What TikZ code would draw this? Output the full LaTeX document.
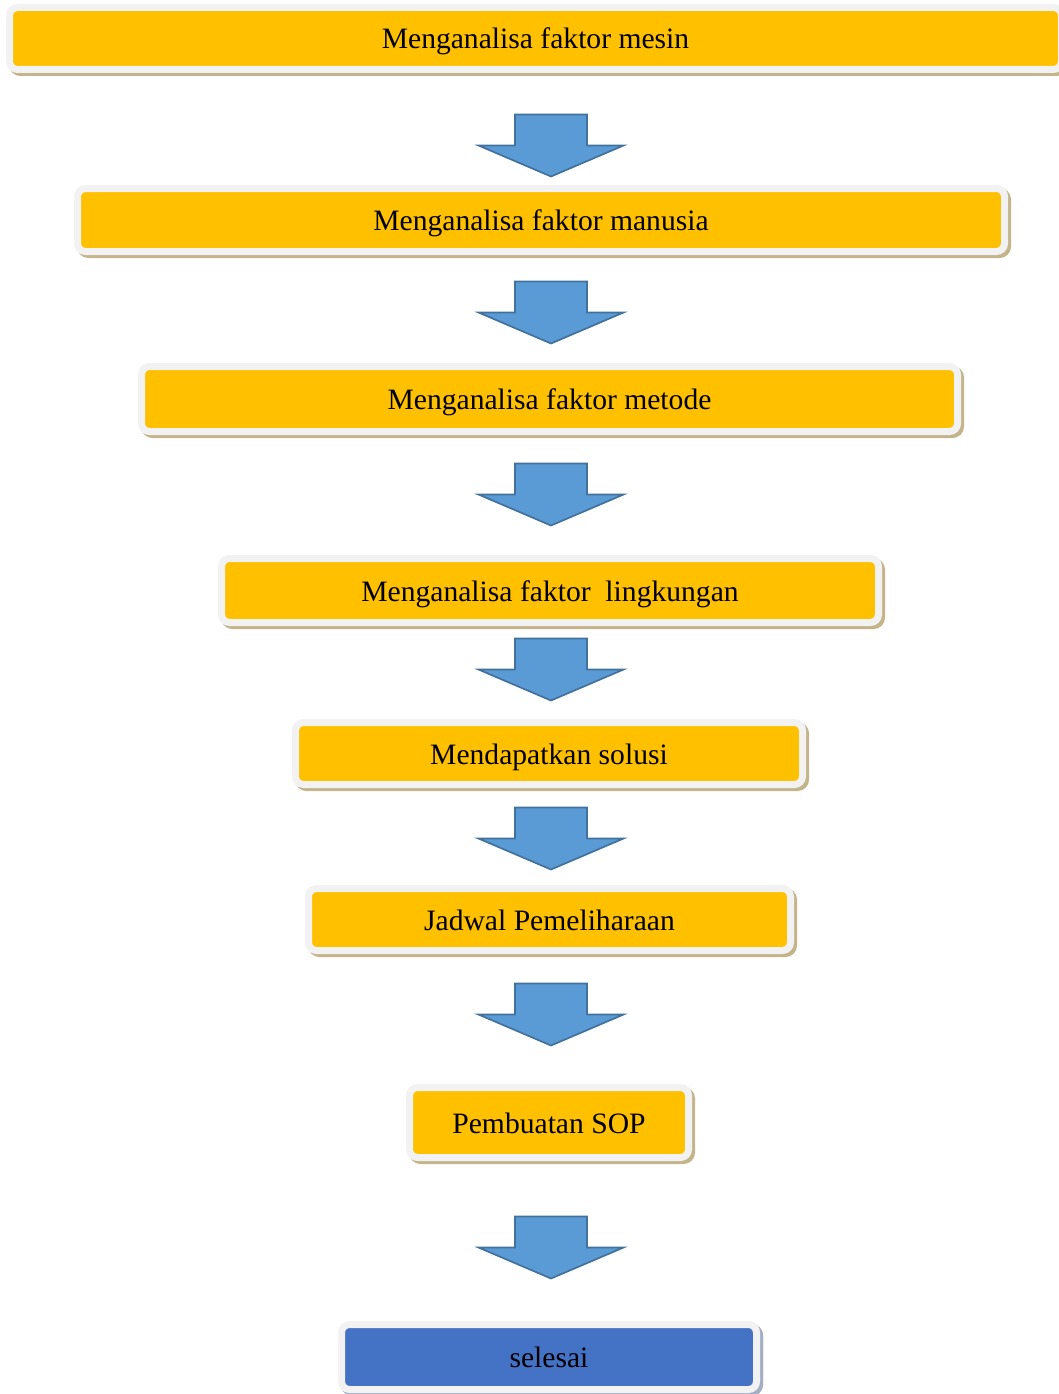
\documentclass[tikz,border=0pt]{standalone}
\usepackage{fontspec}
\setmainfont{Liberation Serif}
\definecolor{boxyellow}{HTML}{FFC000}
\definecolor{boxblue}{HTML}{4472C4}
\definecolor{framegrey}{HTML}{F2F2F2}
\definecolor{shadowtan}{HTML}{C4B48A}
\definecolor{shadowblue}{HTML}{A3AEC6}
\definecolor{arrowfill}{HTML}{5B9BD5}
\definecolor{arrowline}{HTML}{41719C}
\newcommand{\boxtext}[1]{\raisebox{-10.5pt}[0pt][0pt]{#1}}
\tikzset{
  stepbox/.style={rectangle, rounded corners=8pt, fill=boxyellow, draw=framegrey,
    line width=7pt, inner sep=0pt, font=\fontsize{29.6}{34}\selectfont, text=black,
    preaction={draw=shadowtan, line width=7pt, transform canvas={shift={(3pt,-3pt)}}}},
  endbox/.style={stepbox, fill=boxblue,
    preaction={draw=shadowblue, line width=7pt, transform canvas={shift={(3pt,-3pt)}}}},
  blkarrow/.pic={
    \draw[fill=arrowfill, draw=arrowline, line width=1.7pt, line join=miter]
      (-36,0) -- (36,0) -- (36,31) -- (72.5,31) -- (0,62) -- (-72.5,31) -- (-36,31) -- cycle;
  }
}
\begin{document}
\begin{tikzpicture}[x=1pt, y=-1pt]
\useasboundingbox (0,0) rectangle (1059,1394);
\node[stepbox, minimum width=1052pt, minimum height=62pt] (b1) at (535.5,38.5) {\boxtext{Menganalisa faktor mesin}};
\node[stepbox, minimum width=927pt, minimum height=63pt] (b2) at (541,220) {\boxtext{Menganalisa faktor manusia}};
\node[stepbox, minimum width=816pt, minimum height=65pt] (b3) at (549.5,399) {\boxtext{Menganalisa faktor metode}};
\node[stepbox, minimum width=657pt, minimum height=64pt] (b4) at (550,590.5) {\boxtext{Menganalisa faktor\ \ lingkungan}};
\node[stepbox, minimum width=507pt, minimum height=62pt] (b5) at (549,753.5) {\boxtext{Mendapatkan solusi}};
\node[stepbox, minimum width=482pt, minimum height=62pt] (b6) at (549.5,919.5) {\boxtext{Jadwal Pemeliharaan}};
\node[stepbox, minimum width=279pt, minimum height=70pt] (b7) at (549,1122.5) {\boxtext{Pembuatan SOP}};
\node[endbox, minimum width=415pt, minimum height=65pt] (b8) at (549,1357) {\boxtext{selesai}};
\coordinate (a1) at (551,114.5);
\coordinate (a2) at (551,281.5);
\coordinate (a3) at (551,463.5);
\coordinate (a4) at (551,638.5);
\coordinate (a5) at (551,807.5);
\coordinate (a6) at (551,983.5);
\coordinate (a7) at (551,1216.5);
\foreach \a in {a1,a2,a3,a4,a5,a6,a7} { \pic at (\a) {blkarrow}; }
\end{tikzpicture}
\end{document}
